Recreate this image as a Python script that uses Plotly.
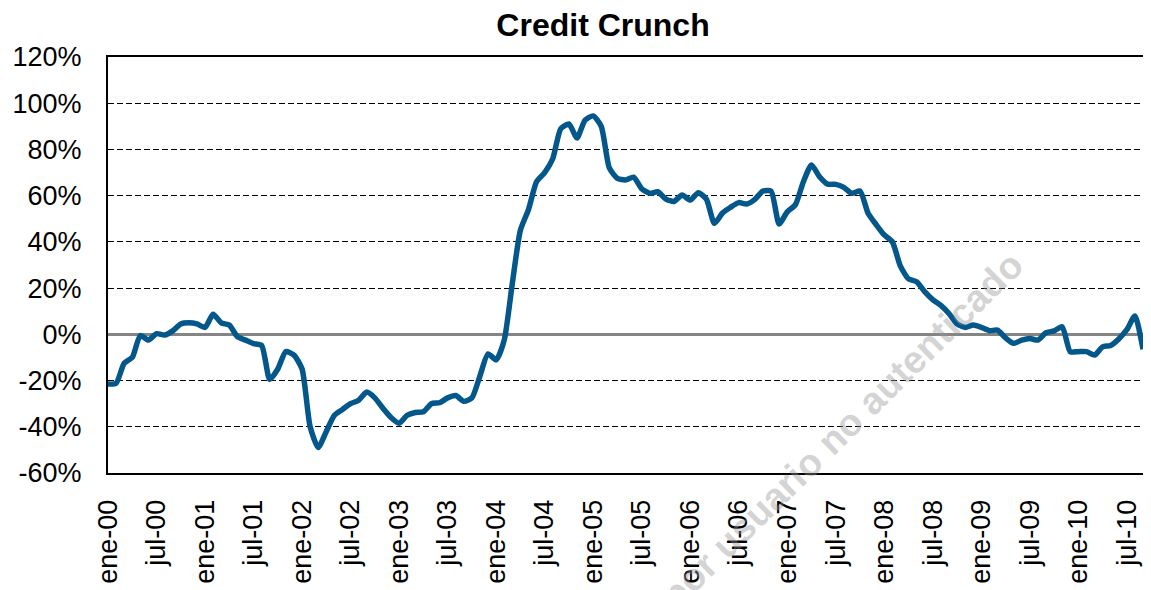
import plotly.graph_objects as go

# Monthly series, Jan-2000 .. Sep-2010 (percent)
months_index = list(range(129))
credit_crunch = [
    -21.5, -21.2, -12.5, -10.0, -0.5, -2.5, 0.3, -0.3, 1.5, 4.5, 5.0, 4.5,
    3.0, 8.7, 5.0, 4.0, -1.0, -2.5, -4.0, -4.8, -19.5, -15.0, -7.5, -9.0,
    -15.0, -40.0, -49.0, -42.0, -35.0, -32.5, -30.0, -28.5, -25.0, -27.5, -32.0, -36.0,
    -38.5, -35.0, -33.8, -33.5, -30.0, -29.6, -27.5, -26.5, -29.0, -27.5, -18.0, -8.5,
    -11.0, -2.5, 22.0, 45.0, 54.0, 66.0, 70.0, 76.0, 89.0, 91.0, 85.0, 92.7,
    94.5, 90.0, 72.0, 67.5, 66.8, 68.0, 63.0, 61.0, 61.7, 58.5, 57.5, 60.3,
    58.1, 61.3, 58.5, 48.0, 52.5, 55.0, 57.0, 56.4, 58.4, 62.0, 62.0, 47.7,
    53.0, 56.0, 66.0, 73.3, 68.2, 65.0, 64.9, 63.6, 61.0, 62.0, 52.4, 47.5,
    43.0, 40.0, 29.5, 24.0, 22.8, 18.5, 15.0, 12.5, 9.0, 4.5, 3.0, 4.0,
    3.0, 1.6, 1.8, -1.5, -3.9, -2.5, -1.8, -2.5, 0.7, 1.5, 3.3, -7.5,
    -7.5, -7.5, -9.0, -5.4, -4.8, -2.0, 2.0, 7.9, -6.5,
]

tick_positions = list(range(0, 127, 6))
tick_labels = [
    "ene-00", "jul-00", "ene-01", "jul-01", "ene-02", "jul-02", "ene-03", "jul-03",
    "ene-04", "jul-04", "ene-05", "jul-05", "ene-06", "jul-06", "ene-07", "jul-07",
    "ene-08", "jul-08", "ene-09", "jul-09", "ene-10", "jul-10",
]
y_ticks = [-60, -40, -20, 0, 20, 40, 60, 80, 100, 120]

FONT = "Liberation Sans, Arial, sans-serif"

# page body has an 8px margin: figure occupies page x 8..1143, y 8..590
W, H = 1135, 582
PL, PT, PB = 100, 49, 117          # plot area: page x 108..1143, y 57..473
plot_w, plot_h = W - PL, H - PT - PB

fig = go.Figure()
fig.add_trace(go.Scatter(
    x=months_index, y=credit_crunch, mode="lines",
    line=dict(color="#03578B", width=5.5, shape="spline", smoothing=0.6),
    showlegend=False, hoverinfo="skip",
))

fig.update_layout(
    width=W, height=H,
    margin=dict(l=PL, r=0, t=PT, b=PB, autoexpand=False),
    paper_bgcolor="white", plot_bgcolor="white",
    font=dict(family=FONT, color="black", size=27),
    title=dict(text="<b>Credit Crunch</b>", x=595 / W, xanchor="center",
               y=1 - 17 / H, yanchor="middle",
               font=dict(family=FONT, size=32, color="black")),
    showlegend=False,
)

fig.update_xaxes(
    range=[0, 128], tickmode="array", tickvals=tick_positions, ticktext=tick_labels,
    tickangle=-90, ticks="", showgrid=False, zeroline=False, automargin=False,
    showline=True, mirror=True, linecolor="black", linewidth=2,
    tickfont=dict(family=FONT, size=27, color="black"),
    ticklabelstandoff=14,
)
fig.update_yaxes(
    range=[-60, 120], tickmode="array", tickvals=y_ticks,
    ticktext=[f"{v}%" for v in y_ticks], automargin=False,
    ticks="", showgrid=True, gridcolor="black", gridwidth=1.3, griddash="6px,3px",
    zeroline=True, zerolinecolor="#858585", zerolinewidth=3,
    showline=True, linecolor="black", linewidth=2, mirror=False,
    tickfont=dict(family=FONT, size=27, color="black"),
    ticklabelstandoff=19,
)

fig.add_annotation(
    text="<b>por usuario no autenticado</b>", xref="paper", yref="paper",
    x=(842 - 108) / plot_w, y=(473 - 430) / plot_h, xanchor="center", yanchor="middle",
    textangle=-44.5, showarrow=False,
    font=dict(family=FONT, size=38, color="rgba(150,150,150,0.42)"),
)

fig.write_html("out.html")
